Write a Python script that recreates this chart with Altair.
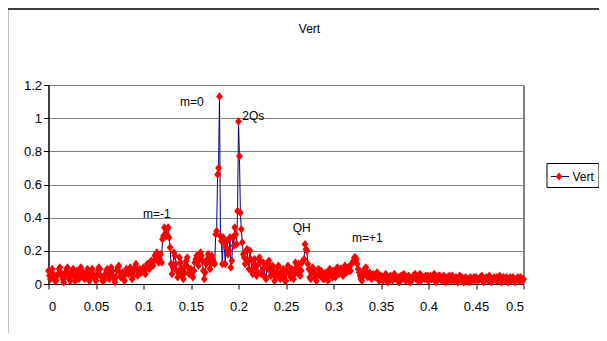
import altair as alt
import pandas as pd

# Spectrum amplitudes, one value every 0.001 of frequency, rows of 50 (0.05 each)
amp_rows = [
    [0.08, 0.05, 0.03, 0.07, 0.09, 0.06, 0.04, 0.02, 0.02, 0.05,
     0.06, 0.09, 0.10, 0.07, 0.05, 0.03, 0.01, 0.04, 0.07, 0.09,
     0.10, 0.06, 0.03, 0.02, 0.05, 0.08, 0.09, 0.05, 0.02, 0.04,
     0.08, 0.06, 0.03, 0.06, 0.10, 0.08, 0.07, 0.04, 0.03, 0.06,
     0.07, 0.09, 0.03, 0.02, 0.05, 0.07, 0.09, 0.06, 0.04, 0.03],
    [0.02, 0.05, 0.08, 0.10, 0.09, 0.05, 0.04, 0.02, 0.02, 0.04,
     0.06, 0.08, 0.09, 0.06, 0.03, 0.07, 0.10, 0.08, 0.05, 0.03,
     0.01, 0.04, 0.08, 0.10, 0.11, 0.07, 0.04, 0.05, 0.07, 0.03,
     0.02, 0.06, 0.09, 0.07, 0.06, 0.08, 0.10, 0.07, 0.03, 0.05,
     0.08, 0.10, 0.12, 0.09, 0.05, 0.07, 0.09, 0.08, 0.07, 0.09],
    [0.10, 0.08, 0.06, 0.09, 0.12, 0.10, 0.09, 0.11, 0.14, 0.12,
     0.11, 0.14, 0.17, 0.18, 0.19, 0.16, 0.13, 0.15, 0.18, 0.13,
     0.27, 0.29, 0.34, 0.30, 0.29, 0.33, 0.34, 0.28, 0.22, 0.12,
     0.06, 0.10, 0.19, 0.17, 0.12, 0.08, 0.04, 0.07, 0.16, 0.13,
     0.09, 0.05, 0.03, 0.07, 0.11, 0.14, 0.16, 0.10, 0.06, 0.08],
    [0.09, 0.07, 0.04, 0.08, 0.13, 0.15, 0.17, 0.14, 0.11, 0.16,
     0.19, 0.17, 0.14, 0.08, 0.03, 0.07, 0.12, 0.15, 0.18, 0.14,
     0.09, 0.12, 0.17, 0.15, 0.13, 0.12, 0.30, 0.32, 0.66, 0.70,
     1.13, 0.29, 0.26, 0.12, 0.28, 0.25, 0.12, 0.22, 0.26, 0.18,
     0.20, 0.28, 0.10, 0.14, 0.28, 0.23, 0.34, 0.30, 0.24, 0.44],
    [0.98, 0.77, 0.43, 0.33, 0.25, 0.18, 0.16, 0.12, 0.20, 0.21,
     0.14, 0.09, 0.20, 0.15, 0.08, 0.06, 0.12, 0.15, 0.10, 0.05,
     0.07, 0.12, 0.16, 0.14, 0.06, 0.08, 0.13, 0.10, 0.04, 0.03,
     0.10, 0.12, 0.14, 0.08, 0.05, 0.09, 0.11, 0.07, 0.02, 0.04,
     0.07, 0.10, 0.11, 0.06, 0.03, 0.04, 0.08, 0.09, 0.05, 0.02],
    [0.02, 0.08, 0.11, 0.09, 0.06, 0.04, 0.09, 0.07, 0.03, 0.06,
     0.13, 0.10, 0.07, 0.12, 0.09, 0.05, 0.08, 0.13, 0.14, 0.15,
     0.24, 0.21, 0.20, 0.12, 0.09, 0.04, 0.03, 0.07, 0.10, 0.08,
     0.06, 0.04, 0.02, 0.05, 0.09, 0.07, 0.05, 0.08, 0.06, 0.03,
     0.03, 0.06, 0.07, 0.04, 0.02, 0.05, 0.09, 0.07, 0.05, 0.04],
    [0.08, 0.06, 0.04, 0.07, 0.10, 0.08, 0.06, 0.09, 0.09, 0.07,
     0.05, 0.08, 0.11, 0.09, 0.07, 0.10, 0.10, 0.08, 0.08, 0.12,
     0.13, 0.14, 0.16, 0.16, 0.15, 0.12, 0.09, 0.07, 0.05, 0.03,
     0.02, 0.05, 0.08, 0.09, 0.10, 0.07, 0.04, 0.06, 0.07, 0.05,
     0.03, 0.05, 0.06, 0.05, 0.04, 0.06, 0.07, 0.04, 0.02, 0.04],
    [0.05, 0.04, 0.02, 0.03, 0.04, 0.06, 0.04, 0.01, 0.02, 0.03,
     0.05, 0.04, 0.02, 0.04, 0.06, 0.05, 0.03, 0.03, 0.04, 0.01,
     0.02, 0.05, 0.03, 0.05, 0.06, 0.04, 0.02, 0.03, 0.04, 0.05,
     0.03, 0.01, 0.02, 0.03, 0.05, 0.04, 0.06, 0.03, 0.04, 0.02,
     0.05, 0.06, 0.02, 0.03, 0.04, 0.04, 0.03, 0.05, 0.03, 0.05],
    [0.02, 0.04, 0.05, 0.03, 0.03, 0.05, 0.06, 0.03, 0.01, 0.02,
     0.04, 0.05, 0.05, 0.03, 0.02, 0.03, 0.05, 0.04, 0.01, 0.03,
     0.04, 0.02, 0.05, 0.03, 0.02, 0.05, 0.04, 0.02, 0.03, 0.04,
     0.03, 0.01, 0.02, 0.05, 0.03, 0.04, 0.02, 0.01, 0.03, 0.04,
     0.02, 0.03, 0.02, 0.01, 0.04, 0.03, 0.02, 0.03, 0.04, 0.02],
    [0.04, 0.03, 0.02, 0.03, 0.03, 0.04, 0.05, 0.02, 0.01, 0.03,
     0.03, 0.04, 0.03, 0.02, 0.05, 0.03, 0.01, 0.02, 0.03, 0.04,
     0.03, 0.02, 0.04, 0.02, 0.03, 0.05, 0.04, 0.01, 0.02, 0.04,
     0.02, 0.03, 0.04, 0.02, 0.01, 0.03, 0.04, 0.02, 0.03, 0.04,
     0.03, 0.01, 0.02, 0.03, 0.04, 0.03, 0.02, 0.04, 0.03, 0.02],
    [0.03],
]
amplitude = [v for row in amp_rows for v in row]
freq = [round(i * 0.001, 3) for i in range(len(amplitude))]

x_ticks = [0, 0.05, 0.1, 0.15, 0.2, 0.25, 0.3, 0.35, 0.4, 0.45, 0.5]
y_ticks = [0, 0.2, 0.4, 0.6, 0.8, 1.0, 1.2]

note_text = ["m=0", "2Qs", "m=-1", "QH", "m=+1"]
note_x = [0.151, 0.2155, 0.114, 0.2665, 0.3355]
note_y = [1.095, 1.015, 0.425, 0.34, 0.28]

FONT = "Liberation Sans Narrow, Arial Narrow, Liberation Sans, Arial"
DIAMOND = "M0,-1L0.8,0L0,1L-0.8,0Z"

df = pd.DataFrame({"freq": freq, "amp": amplitude, "s1": "Vert", "s2": "Vert"})
notes = pd.DataFrame({"label": note_text, "freq": note_x, "amp": note_y})

xenc = alt.X("freq:Q", scale=alt.Scale(domain=[0, 0.5], nice=False, zero=False),
             axis=alt.Axis(values=x_ticks, format="~g", title=None, grid=False,
                           labelPadding=11, tickSize=5))
yenc = alt.Y("amp:Q", scale=alt.Scale(domain=[0, 1.2], nice=False),
             axis=alt.Axis(values=y_ticks, format="~g", title=None, grid=True,
                           gridColor="#808080", gridWidth=1, labelPadding=2, tickSize=5,
                           labelOverlap=False))

frame = alt.Chart(alt.Data(values=[{"a": 1}])).mark_rect(
    fill="transparent", stroke="black", strokeWidth=1.5
).encode(x=alt.value(-41), x2=alt.value(650), y=alt.value(-76), y2=alt.value(400))

line = alt.Chart(df).mark_line(strokeWidth=1).encode(
    x=xenc, y=yenc,
    color=alt.Color("s1:N", scale=alt.Scale(range=["#000080"]),
                    legend=alt.Legend(title=None, orient="none", legendX=498, legendY=78,
                                      padding=4, strokeColor="black", symbolType="stroke",
                                      symbolSize=324, symbolStrokeWidth=1, labelOffset=3,
                                      labelFontSize=12, labelFont=FONT)),
)

pts = alt.Chart(df).mark_point(filled=True, opacity=1, size=72, color="#FF0000").encode(
    x=xenc, y=yenc,
    shape=alt.Shape("s2:N", scale=alt.Scale(range=[DIAMOND]),
                    legend=alt.Legend(title=None, orient="none", legendX=506.5, legendY=87.5,
                                      padding=0, symbolSize=64, labelExpr="''",
                                      labelFontSize=1, labelOffset=0,
                                      symbolFillColor="#FF0000", symbolStrokeWidth=0)),
)

text = alt.Chart(notes).mark_text(font=FONT, fontSize=12, color="black").encode(
    x=xenc, y=yenc, text="label:N"
)

chart = alt.layer(frame, line, pts, text).properties(
    width=475, height=199,
    autosize=alt.AutoSizeParams(type="none"),
    padding={"left": 40.5, "top": 77, "right": 75, "bottom": 49},
    title=alt.TitleParams("Vert", anchor="middle", frame="group", dx=23.5,
                          baseline="alphabetic", offset=-36.5, fontSize=12,
                          font=FONT, fontWeight="normal", color="black"),
).configure_view(stroke="black", strokeWidth=1).configure_axis(
    domainColor="black", tickColor="black", labelColor="black",
    labelFont=FONT, labelFontSize=13,
)

chart.save("out.html", embed_options={"renderer": "svg", "actions": False})
